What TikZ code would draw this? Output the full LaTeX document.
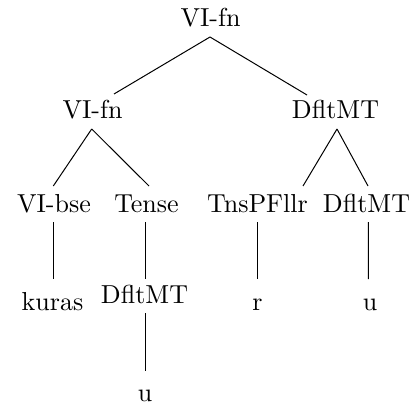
\documentclass[tikz,border=0pt]{standalone}
\usetikzlibrary{calc}
\tikzset{
  lab/.style={inner sep=0pt, anchor=base, font=\fontsize{10.4}{12.5}\selectfont},
  branch/.style={line width=0.4pt, black}
}
\begin{document}
\begin{tikzpicture}[x=0.4pt,y=-0.4pt]
  \useasboundingbox (0,0) rectangle (411,406);
  % labels, placed by their baselines
  \node[lab] (root)  at (210.5,27)  {VI-fn};
  \node[lab] (fnL)   at (92.5,118)  {VI-fn};
  \node[lab] (dR)    at (335.5,118) {DfltMT};
  \node[lab] (bse)   at (54,212)    {VI-bse};
  \node[lab] (tense) at (146.5,212) {Tense};
  \node[lab] (tns)   at (257.5,212) {TnsPFllr};
  \node[lab] (dRR)   at (366.5,212) {DfltMT};
  \node[lab] (kuras) at (52.5,310)  {kuras};
  \node[lab] (dT)    at (144.5,303.3) {DfltMT};
  \node[lab] (r)     at (257.5,310) {r};
  \node[lab] (uR)    at (370,310)   {u};
  \node[lab] (uB)    at (145,401.7) {u};
  % branches
  \draw[branch] ($(root.base)+(-0.5,10)$) -- ($(fnL.base)+(21.5,-24)$);
  \draw[branch] ($(root.base)+(-0.5,10)$) -- ($(dR.base)+(-28.5,-23)$);
  \draw[branch] ($(fnL.base)+(-0.8,11)$) -- ($(bse.base)+(-0.7,-26)$);
  \draw[branch] ($(fnL.base)+(-0.8,11)$) -- ($(tense.base)+(2.5,-26)$);
  \draw[branch] ($(dR.base)+(1.5,11)$) -- ($(tns.base)+(45.5,-26)$);
  \draw[branch] ($(dR.base)+(1.5,11)$) -- ($(dRR.base)+(1.5,-26)$);
  \draw[branch] ($(bse.base)+(-0.7,10)$) -- ($(kuras.base)+(0.8,-31)$);
  \draw[branch] ($(tense.base)+(-1.5,10)$) -- ($(dT.base)+(0.5,-24)$);
  \draw[branch] ($(dT.base)+(0.5,10)$) -- ($(uB.base)+(0,-31)$);
  \draw[branch] ($(tns.base)+(0.2,10)$) -- ($(r.base)+(0.2,-31)$);
  \draw[branch] ($(dRR.base)+(1.8,10)$) -- ($(uR.base)+(-1.7,-31)$);
\end{tikzpicture}
\end{document}
